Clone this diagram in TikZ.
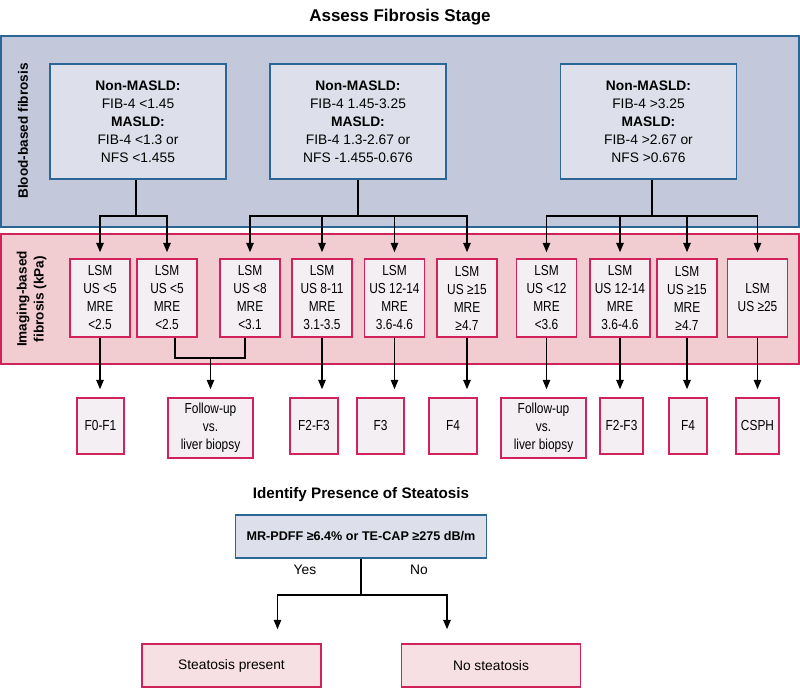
\documentclass[tikz,border=0pt]{standalone}
\usepackage{fontspec}
\setmainfont{Liberation Sans}
\newfontfamily\narrowsans[FakeStretch=0.82]{Liberation Sans}
\usetikzlibrary{arrows.meta,positioning,calc}

\definecolor{bluepanel}{HTML}{C3C8DA}
\definecolor{bluebox}{HTML}{DDE0EA}
\definecolor{blueline}{HTML}{2C6694}
\definecolor{pinkpanel}{HTML}{F1CDD2}
\definecolor{redline}{HTML}{D1225B}
\definecolor{palebox}{HTML}{F3EFF3}
\definecolor{pinkbox}{HTML}{F7E0E3}

\tikzset{
  txt/.style={font=\fontsize{13.8}{18}\selectfont, align=center, inner sep=0pt},
  narrowtxt/.style={font=\narrowsans\fontsize{14.5}{18}\selectfont, align=center, inner sep=0pt},
  heading/.style={font=\fontsize{17}{20}\selectfont\bfseries, inner sep=0pt},
  sidelabel/.style={font=\fontsize{13.6}{17}\selectfont\bfseries, align=center, rotate=90, inner sep=0pt},
  fibbox/.style={txt, draw=blueline, fill=bluebox, line width=1.5pt, minimum width=176pt, minimum height=115pt},
  lsmbox/.style={narrowtxt, draw=redline, fill=palebox, line width=1.5pt, minimum width=60pt, minimum height=78pt},
  outbox/.style={narrowtxt, draw=redline, fill=palebox, line width=1.5pt, minimum height=56pt},
  steatbox/.style={txt, draw=redline, fill=pinkbox, line width=1.5pt, minimum width=179pt, minimum height=43pt},
  link/.style={line width=1.5pt, >={Triangle[width=7.5pt,length=9.5pt]}}
}

\begin{document}
\begin{tikzpicture}[x=1pt,y=-1pt]
\useasboundingbox (0,0) rectangle (800,688);

\node[heading] (fibtitle) at (400,17) {Assess Fibrosis Stage};
\draw[fill=bluepanel, draw=blueline, line width=2pt] (1,36) rectangle (799,227);
\node[sidelabel] (bloodlbl) at (23,131) {Blood-based fibrosis};
\draw[fill=pinkpanel, draw=redline, line width=2pt] (1,234) rectangle (799,364);
\node[sidelabel] (imglbl) at (31.5,299) {Imaging-based\\fibrosis (kPa)};

\node[fibbox] (low) at (138,121.5) {\textbf{Non-MASLD:}\\FIB-4 <1.45\\\textbf{MASLD:}\\FIB-4 <1.3 or\\NFS <1.455};
\node[fibbox] (mid) at (358,121.5) {\textbf{Non-MASLD:}\\FIB-4 1.45-3.25\\\textbf{MASLD:}\\FIB-4 1.3-2.67 or\\NFS -1.455-0.676};
\node[fibbox] (high) at (648.5,121.5) {\textbf{Non-MASLD:}\\FIB-4 >3.25\\\textbf{MASLD:}\\FIB-4 >2.67 or\\NFS >0.676};

\node[lsmbox] (lsma) at (100,298) {LSM\\US <5\\MRE\\<2.5};
\node[lsmbox] (lsmb) at (167,298) {LSM\\US <5\\MRE\\<2.5};
\node[lsmbox] (lsmc) at (250,298) {LSM\\US <8\\MRE\\<3.1};
\node[lsmbox] (lsmd) at (322,298) {LSM\\US 8-11\\MRE\\3.1-3.5};
\node[lsmbox] (lsme) at (394.5,298) {LSM\\US 12-14\\MRE\\3.6-4.6};
\node[lsmbox] (lsmf) at (467,298) {LSM\\US ≥15\\MRE\\≥4.7};
\node[lsmbox] (lsmg) at (546.5,298) {LSM\\US <12\\MRE\\<3.6};
\node[lsmbox] (lsmh) at (620,298) {LSM\\US 12-14\\MRE\\3.6-4.6};
\node[lsmbox] (lsmi) at (687,298) {LSM\\US ≥15\\MRE\\≥4.7};
\node[lsmbox] (lsmj) at (757.5,298) {LSM\\US ≥25};

\node[outbox, minimum width=47pt] (fzero) at (100.5,426) {F0-F1};
\node[outbox, minimum width=85pt, minimum height=60pt] (followa) at (210.5,428) {Follow-up\\vs.\\liver biopsy};
\node[outbox, minimum width=48pt] (ftwoa) at (314,426) {F2-F3};
\node[outbox, minimum width=47pt] (fthree) at (380.5,426) {F3};
\node[outbox, minimum width=48pt] (fioura) at (453,426) {F4};
\node[outbox, minimum width=85pt, minimum height=60pt] (followb) at (543.5,428) {Follow-up\\vs.\\liver biopsy};
\node[outbox, minimum width=43pt] (ftwob) at (621.5,426) {F2-F3};
\node[outbox, minimum width=38pt] (ffourb) at (688,426) {F4};
\node[outbox, minimum width=43pt] (csph) at (757.5,426) {CSPH};

\coordinate (jlow) at (136,216);
\coordinate (jmid) at (358,216);
\coordinate (jhigh) at (652,216);
\draw[link] (low.south -| jlow) -- (jlow);
\draw[link] (mid.south) -- (jmid);
\draw[link] (high.south -| jhigh) -- (jhigh);
\foreach \t in {lsma,lsmb}
  \draw[link,->] (jlow) -| ([yshift=6pt]\t.north);
\foreach \t in {lsmc,lsmd,lsme,lsmf}
  \draw[link,->] (jmid) -| ([yshift=6pt]\t.north);
\foreach \t in {lsmg,lsmh,lsmi,lsmj}
  \draw[link,->] (jhigh) -| ([yshift=6pt]\t.north);

\coordinate (jfollow) at (210.5,358);
\draw[link] ([xshift=8pt]lsmb.south) |- (jfollow) -| ([xshift=-5pt]lsmc.south);
\draw[link,->] (jfollow) -- ([yshift=8pt]followa.north);
\draw[link,->] (lsma.south) -- ([yshift=8pt]lsma.south |- fzero.north);
\draw[link,->] (lsmd.south) -- ([yshift=8pt]lsmd.south |- ftwoa.north);
\draw[link,->] (lsme.south) -- ([yshift=8pt]lsme.south |- fthree.north);
\draw[link,->] (lsmf.south) -- ([yshift=8pt]lsmf.south |- fioura.north);
\draw[link,->] (lsmg.south) -- ([yshift=8pt]lsmg.south |- followb.north);
\draw[link,->] (lsmh.south) -- ([yshift=8pt]lsmh.south |- ftwob.north);
\draw[link,->] (lsmi.south) -- ([yshift=8pt]lsmi.south |- ffourb.north);
\draw[link,->] (lsmj.south) -- ([yshift=8pt]lsmj.south |- csph.north);

\node[heading, font=\fontsize{15.2}{18}\selectfont\bfseries] (steattitle) at (361,495) {Identify Presence of Steatosis};
\node[txt, draw=blueline, fill=bluebox, line width=1.5pt, minimum width=251pt, minimum height=43pt, font=\fontsize{12.6}{18}\selectfont\bfseries] (mrpdff) at (361,536.5) {MR-PDFF ≥6.4\% or TE-CAP ≥275 dB/m};
\node[txt] (yes) at (305,570) {Yes};
\node[txt] (no) at (419,570) {No};
\node[steatbox] (present) at (231.5,665.5) {Steatosis present};
\node[steatbox] (absent) at (491,665.5) {No steatosis};
\coordinate (jsteat) at (361,595);
\draw[link] (mrpdff.south) -- (jsteat);
\draw[link,->] (jsteat) -| ([xshift=46pt,yshift=14pt]present.north);
\draw[link,->] (jsteat) -| ([xshift=-44pt,yshift=14pt]absent.north);
\end{tikzpicture}
\end{document}
